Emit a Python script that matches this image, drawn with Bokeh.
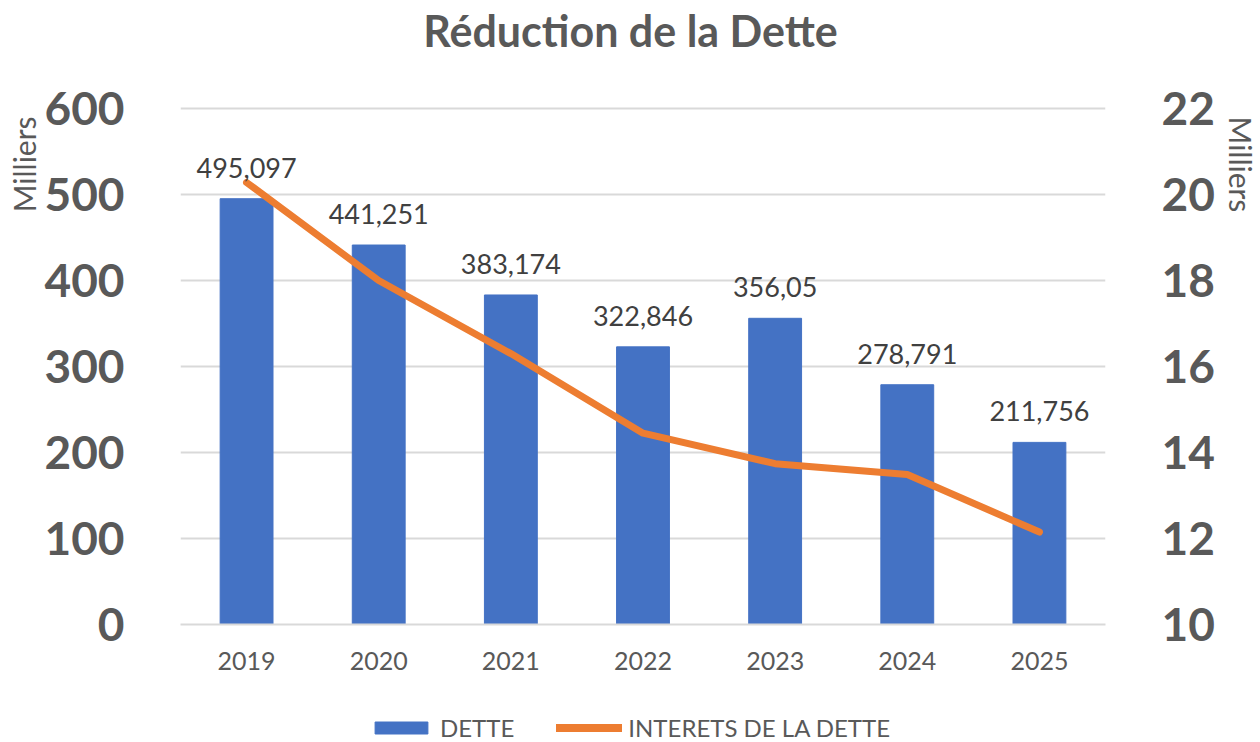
from bokeh.plotting import figure
from bokeh.layouts import column
from bokeh.models import (Range1d, LinearAxis, FixedTicker, Legend, LegendItem,
                          Title, Label, ColumnDataSource, FactorRange)
from bokeh.core.properties import value
from bokeh.embed import file_html
from bokeh.resources import INLINE

years = ["2019", "2020", "2021", "2022", "2023", "2024", "2025"]
dette = [495.097, 441.251, 383.174, 322.846, 356.05, 278.791, 211.756]
interets = [20.28, 18.0, 16.3, 14.45, 13.74, 13.49, 12.15]
left_ticks = [0, 100, 200, 300, 400, 500, 600]
right_ticks = [10, 12, 14, 16, 18, 20, 22]
title_text = "Réduction de la Dette"
unit_text = "Milliers"
series_names = ["DETTE", "INTERETS DE LA DETTE"]

labels = [f"{v:g}".replace(".", ",") for v in dette]

FONT = "Lato"
GRAY = "#595959"
BLUE = "#4472C4"
ORANGE = "#ED7D31"

src = ColumnDataSource(dict(x=years, dette=dette, interets=interets, lab=labels))

# ---------- header (title) ----------
# (column layout aligns the frames: this frame starts 180px from the left)
p0 = figure(width=1260, height=60, x_range=Range1d(0, 1), y_range=Range1d(0, 1),
            x_axis_location=None, y_axis_location=None, min_border=0,
            output_backend="svg", toolbar_location=None)
p0.outline_line_color = None
p0.grid.visible = False
p0.add_layout(Label(x=450, y=30, x_units="screen", y_units="screen",
                    text=title_text, text_align="center", text_baseline="middle",
                    text_font=FONT, text_font_style="bold", text_font_size="43px",
                    text_color=GRAY))

# ---------- main chart ----------
p = figure(x_range=FactorRange(*years), y_range=Range1d(0, 600 + 600 / 516 * 2),
           width=1260, height=648, frame_width=925, frame_height=518,
           output_backend="svg", toolbar_location=None,
           min_border_left=180, min_border_right=155, min_border_top=46,
           min_border_bottom=84)
p.outline_line_color = None
p.background_fill_color = "white"
p.border_fill_color = "white"

p.extra_y_ranges = {"r": Range1d(10, 22 + 12 / 516 * 2)}

bars = p.vbar(x="x", top="dette", width=0.4, source=src, color=BLUE)
line = p.line(x="x", y="interets", source=src, y_range_name="r",
              line_color=ORANGE, line_width=7, line_cap="round", line_join="round")

p.text(x="x", y="dette", text="lab", source=src, text_align="center",
       text_baseline="bottom", y_offset=-21, text_font=value(FONT),
       text_font_size="27px", text_color="#404040")

ya = p.yaxis[0]
ya.ticker = FixedTicker(ticks=left_ticks)
ya.axis_line_color = None
ya.major_tick_line_color = None
ya.minor_tick_line_color = None
ya.major_label_text_font = FONT
ya.major_label_text_font_style = "bold"
ya.major_label_text_font_size = "46px"
ya.major_label_text_color = GRAY
ya.major_label_standoff = 50

ra = LinearAxis(y_range_name="r", ticker=FixedTicker(ticks=right_ticks))
ra.axis_line_color = None
ra.major_tick_line_color = None
ra.minor_tick_line_color = None
ra.major_label_text_font = FONT
ra.major_label_text_font_style = "bold"
ra.major_label_text_font_size = "46px"
ra.major_label_text_color = GRAY
ra.major_label_standoff = 50
p.add_layout(ra, "right")

xa = p.xaxis[0]
xa.axis_line_color = "#d9d9d9"
xa.axis_line_width = 2
xa.major_tick_line_color = None
xa.minor_tick_line_color = None
xa.major_label_text_font = FONT
xa.major_label_text_font_size = "25px"
xa.major_label_text_color = GRAY
xa.major_label_standoff = 21

p.xgrid.grid_line_color = None
p.ygrid.grid_line_color = "#d9d9d9"
p.ygrid.grid_line_width = 2
p.ygrid.ticker = FixedTicker(ticks=left_ticks)

p.add_layout(Title(text=unit_text, align="right", offset=10, text_font=FONT,
                   text_font_style="normal", text_font_size="30px",
                   text_color=GRAY, standoff=0), "left")
p.add_layout(Title(text=unit_text, align="left", offset=10, text_font=FONT,
                   text_font_style="normal", text_font_size="30px",
                   text_color=GRAY, standoff=10), "right")

# ---------- legend strip ----------
# same series drawn far out of view (y range above the data) so the legend has glyphs
p2 = figure(width=1260, height=34, x_range=FactorRange(*years),
            y_range=Range1d(1000, 1001), x_axis_location=None, y_axis_location=None,
            min_border=0, output_backend="svg", toolbar_location=None)
p2.outline_line_color = None
p2.grid.visible = False
lb = p2.vbar(x="x", top="dette", width=0.4, source=src, color=BLUE)
ll = p2.line(x="x", y="interets", source=src, line_color=ORANGE, line_width=8,
             line_cap="round")
legend = Legend(items=[LegendItem(label=series_names[0], renderers=[lb]),
                       LegendItem(label=series_names[1], renderers=[ll])],
                orientation="horizontal", location=(188, 0),
                label_text_font=FONT, label_text_font_size="24px",
                label_text_color=GRAY, glyph_width=66, glyph_height=15,
                spacing=42, border_line_color=None, background_fill_alpha=0,
                padding=0, margin=0, label_standoff=6)
p2.add_layout(legend, "center")

open("out.html", "w").write(file_html(column(p0, p, p2), INLINE))
